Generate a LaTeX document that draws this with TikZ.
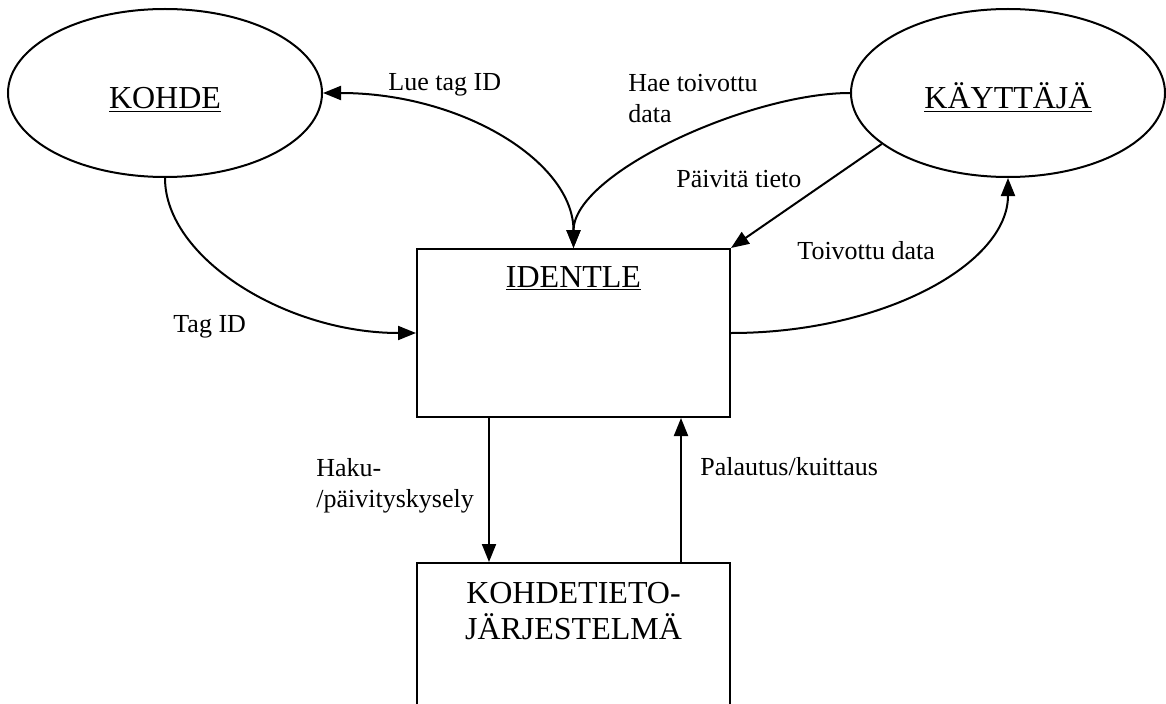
\documentclass[tikz,border=0pt]{standalone}
\usepackage{fontspec}
\setmainfont{Liberation Serif}
\usetikzlibrary{shapes.geometric, arrows.meta, positioning}
\tikzstyle{entity} = [ellipse, draw=black, line width=1pt, minimum width=157pt, minimum height=84pt, inner sep=0pt, text height=18pt, text depth=2.7pt, font=\fontsize{16}{18}\selectfont]
\tikzstyle{system} = [rectangle, draw=black, line width=1pt, minimum width=156.5pt, inner sep=0pt]
\tikzstyle{boxtext} = [inner sep=0pt, align=center, font=\fontsize{16}{18}\selectfont]
\tikzstyle{flowlabel} = [inner sep=0pt, align=left, font=\fontsize{13}{15.5}\selectfont]
\tikzstyle{arrow} = [line width=1pt, -{Triangle[length=9pt,width=7pt]}]
\tikzstyle{dblarrow} = [line width=1pt, {Triangle[length=9pt,width=7pt]}-{Triangle[length=9pt,width=7pt]}]

\begin{document}
\begin{tikzpicture}[x=0.5pt, y=0.5pt]
        \clip (0,0) rectangle (1166,703);
        % Nodes
        \node (kohde) [entity] at (165,610) {\underline{KOHDE}};
        \node (kayttaja) [entity, right=263.5pt of kohde] {\underline{KÄYTTÄJÄ}};
        \node (identle) [system, minimum height=84pt] at (573.5,370) {};
        \node (kohdetieto) [system, minimum height=95pt, below=72pt of identle] {};
        \node (identle-txt) [boxtext, anchor=base] at ([yshift=-19.5pt]identle.north) {\underline{IDENTLE}};
        \node (kohdetieto-txt) [boxtext, anchor=base] at ([yshift=-38.5pt]kohdetieto.north) {KOHDETIETO-\\JÄRJESTELMÄ};

        % Labels (base = last line)
        \node (lue) [flowlabel, anchor=base west] at (388,612) {Lue tag ID};
        \node (hae) [flowlabel, anchor=base west] at (628,581) {Hae toivottu\\data};
        \node (paivita) [flowlabel, anchor=base west] at (676,516) {Päivitä tieto};
        \node (toivottu) [flowlabel, anchor=base west] at (797,444) {Toivottu data};
        \node (tagid) [flowlabel, anchor=base west] at (173,371) {Tag ID};
        \node (haku) [flowlabel, anchor=base west] at (316,196) {Haku-\\/päivityskysely};
        \node (palautus) [flowlabel, anchor=base west] at (700,228) {Palautus/kuittaus};

        % Arrows
        \draw [dblarrow] (kohde.east) .. controls +(139,0) and +(0,86) .. (identle.north);
        \draw [arrow] (kayttaja.west) .. controls +(-100,0) and +(0,75) .. (identle.north);
        \draw [arrow] (kayttaja.202) -- (identle.north east);
        \draw [arrow] (identle.east) .. controls +(152,0) and +(0,-86) .. (kayttaja.south);
        \draw [arrow] (kohde.south) .. controls +(0,-80) and +(-130,0) .. (identle.west);

        % query and reply between the boxes
        \draw [arrow] ([xshift=-42.25pt]identle.south) -- ([xshift=-42.25pt]kohdetieto.north);
        \draw [arrow] ([xshift=53.75pt]kohdetieto.north) -- ([xshift=53.75pt]identle.south);
\end{tikzpicture}
\end{document}
